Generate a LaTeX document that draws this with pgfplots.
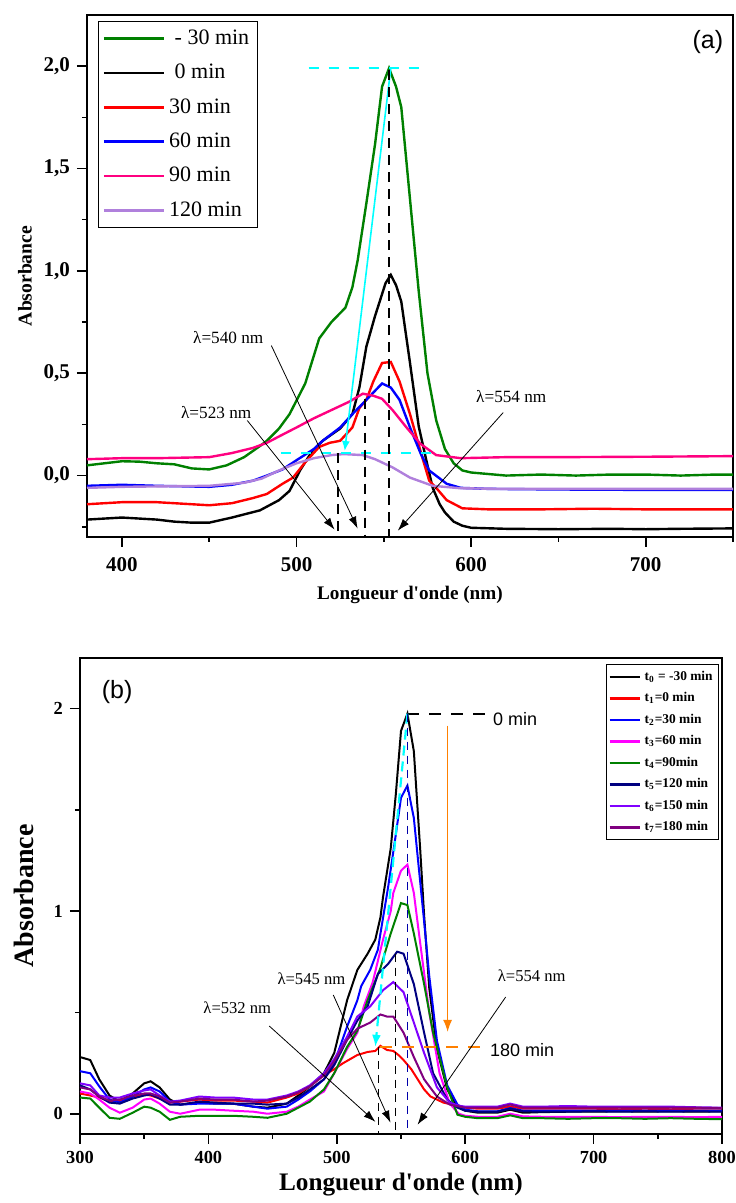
\documentclass[border=0pt]{standalone}
\usepackage{pgfplots}
\pgfplotsset{compat=1.18}
\usepackage{fontspec}
\setmainfont{Liberation Serif}[Ligatures=TeXOff]
\newfontfamily\arialf{Liberation Sans}
\usetikzlibrary{arrows.meta}
\definecolor{cgreen}{RGB}{0,128,0}
\definecolor{cpink}{RGB}{255,0,128}
\definecolor{clav}{RGB}{176,128,220}
\definecolor{ccyan}{RGB}{0,255,255}
\definecolor{corange}{RGB}{255,128,0}
\definecolor{cnavy}{RGB}{0,0,128}
\definecolor{cviolet}{RGB}{128,0,255}
\definecolor{cpurple}{RGB}{128,0,128}
\definecolor{cmag}{RGB}{255,0,255}
\definecolor{cdblue}{RGB}{0,0,170}

\pgfplotstableread{
x y
380 0.05
390 0.06
400 0.07
410 0.068
420 0.06
430 0.055
440 0.035
450 0.03
460 0.05
470 0.09
480 0.15
483 0.17
490 0.23
496 0.30
505 0.45
513 0.67
520 0.75
528 0.82
532 0.92
535 1.05
540 1.33
545 1.62
549 1.90
553 1.99
557 1.90
560 1.80
565 1.35
570 0.90
575 0.50
580 0.27
585 0.13
590 0.06
595 0.025
600 0.015
620 0.0
640 0.005
660 0.0
680 0.005
700 0.005
720 0.0
740 0.005
750 0.005
}\tAgreen
\pgfplotstableread{
x y
380 -0.215
390 -0.21
400 -0.205
410 -0.21
420 -0.215
430 -0.225
440 -0.23
450 -0.23
463 -0.205
479 -0.17
490 -0.12
496 -0.075
502 0.025
509 0.12
515 0.17
525 0.23
532 0.30
536 0.43
540 0.63
545 0.78
548 0.86
551 0.94
554 0.98
557 0.93
560 0.85
565 0.55
570 0.24
575 0.05
578 -0.06
582 -0.14
585 -0.18
590 -0.225
595 -0.245
600 -0.255
620 -0.26
650 -0.262
680 -0.26
700 -0.262
720 -0.26
750 -0.258
}\tAblack
\pgfplotstableread{
x y
380 -0.14
390 -0.135
400 -0.13
420 -0.13
440 -0.14
450 -0.145
463 -0.135
475 -0.11
483 -0.09
492 -0.04
498 -0.01
505 0.065
513 0.14
519 0.16
525 0.17
532 0.235
536 0.33
540 0.37
544 0.46
549 0.55
554 0.555
559 0.46
565 0.30
572 0.09
576 -0.025
580 -0.06
586 -0.12
595 -0.16
610 -0.165
640 -0.165
670 -0.162
700 -0.165
730 -0.165
750 -0.165
}\tAred
\pgfplotstableread{
x y
380 -0.05
400 -0.045
420 -0.05
450 -0.055
463 -0.045
475 -0.025
483 0.0
492 0.03
500 0.075
510 0.13
515 0.17
525 0.235
532 0.30
540 0.37
549 0.45
554 0.43
559 0.37
565 0.235
571 0.11
576 0.025
586 -0.04
594 -0.06
610 -0.065
650 -0.068
700 -0.07
750 -0.07
}\tAblue
\pgfplotstableread{
x y
380 0.08
400 0.085
420 0.085
450 0.09
463 0.11
475 0.135
483 0.16
492 0.20
500 0.235
510 0.28
520 0.32
530 0.36
538 0.40
544 0.39
549 0.375
555 0.32
563 0.235
571 0.155
580 0.10
594 0.085
620 0.09
650 0.09
700 0.092
750 0.095
}\tApink
\pgfplotstableread{
x y
380 -0.06
400 -0.055
450 -0.05
470 -0.035
480 -0.015
490 0.025
500 0.06
510 0.085
520 0.10
527 0.105
538 0.10
545 0.08
555 0.04
565 -0.01
578 -0.05
594 -0.062
620 -0.065
700 -0.065
750 -0.065
}\tApurple

\pgfplotstableread{
x y
300 0.28
308 0.265
315 0.17
323 0.09
331 0.06
341 0.10
350 0.15
355 0.16
362 0.13
370 0.07
378 0.045
393 0.055
405 0.05
419 0.05
435 0.035
446 0.03
461 0.05
470 0.09
479 0.135
490 0.20
498 0.30
508 0.56
516 0.71
524 0.79
530 0.86
534 0.97
536 1.07
542 1.31
546 1.58
550 1.89
555 1.975
560 1.79
565 1.30
568 0.98
572 0.62
578 0.32
586 0.12
594 0.035
600 0.015
610 0.005
625 0.005
635 0.02
645 0.005
660 0.008
680 0.01
700 0.01
720 0.012
740 0.01
760 0.012
780 0.01
800 0.012
}\tBzero
\pgfplotstableread{
x y
300 0.10
308 0.09
315 0.08
323 0.06
331 0.065
341 0.085
350 0.095
355 0.09
362 0.075
370 0.055
378 0.06
393 0.07
405 0.065
419 0.065
435 0.06
446 0.055
461 0.08
470 0.10
479 0.135
490 0.19
498 0.22
505 0.25
516 0.29
524 0.305
530 0.31
534 0.335
539 0.315
544 0.31
548 0.29
552 0.265
558 0.22
563 0.17
568 0.12
573 0.085
583 0.055
590 0.045
600 0.03
610 0.025
625 0.025
635 0.035
645 0.025
660 0.025
680 0.025
700 0.025
720 0.022
740 0.025
760 0.022
780 0.025
800 0.025
}\tBone
\pgfplotstableread{
x y
300 0.21
308 0.20
315 0.135
323 0.07
331 0.055
341 0.085
350 0.12
355 0.13
362 0.11
370 0.06
378 0.045
393 0.05
405 0.05
419 0.05
435 0.035
446 0.025
461 0.035
470 0.07
479 0.11
490 0.17
498 0.25
508 0.43
516 0.56
519 0.63
526 0.71
532 0.81
534 0.89
540 1.12
546 1.38
550 1.56
555 1.62
560 1.46
568 0.95
572 0.68
578 0.36
586 0.14
594 0.045
600 0.02
610 0.012
625 0.012
635 0.028
645 0.015
660 0.015
680 0.015
700 0.015
720 0.015
740 0.015
760 0.015
780 0.015
800 0.015
}\tBtwo
\pgfplotstableread{
x y
300 0.11
308 0.10
315 0.07
323 0.03
331 0.005
341 0.03
350 0.07
355 0.075
362 0.05
370 0.01
378 0.0
393 0.02
405 0.02
419 0.015
435 0.01
446 0.0
461 0.01
470 0.035
479 0.07
490 0.11
498 0.20
508 0.32
516 0.40
521 0.53
528 0.65
536 0.86
542 1.0
544 1.09
550 1.20
555 1.23
560 1.09
565 0.84
572 0.50
580 0.20
588 0.05
595 0.0
600 -0.01
610 -0.015
625 -0.015
635 0.0
645 -0.013
660 -0.015
680 -0.015
700 -0.015
720 -0.017
740 -0.015
760 -0.015
780 -0.017
800 -0.015
}\tBthree
\pgfplotstableread{
x y
300 0.08
308 0.075
315 0.03
323 -0.02
331 -0.025
341 0.005
350 0.035
355 0.03
362 0.01
370 -0.03
378 -0.015
393 -0.01
405 -0.01
419 -0.01
435 -0.015
446 -0.02
461 0.0
470 0.03
479 0.06
490 0.12
498 0.20
508 0.33
516 0.41
524 0.56
534 0.72
542 0.89
550 1.04
555 1.03
560 0.89
568 0.64
575 0.40
586 0.13
594 -0.005
600 -0.015
610 -0.022
625 -0.022
635 -0.008
645 -0.022
660 -0.022
680 -0.025
700 -0.022
720 -0.022
740 -0.025
760 -0.022
780 -0.025
800 -0.027
}\tBfour
\pgfplotstableread{
x y
300 0.14
308 0.12
315 0.085
323 0.055
331 0.05
341 0.075
350 0.09
355 0.095
362 0.075
370 0.045
378 0.045
393 0.06
405 0.055
419 0.05
435 0.05
446 0.045
461 0.05
470 0.08
479 0.12
490 0.17
498 0.24
508 0.365
516 0.46
524 0.53
532 0.69
540 0.74
547 0.80
552 0.79
560 0.64
568 0.40
575 0.20
586 0.07
594 0.03
600 0.015
610 0.01
625 0.01
635 0.025
645 0.012
660 0.01
680 0.01
700 0.012
720 0.01
740 0.012
760 0.01
780 0.012
800 0.01
}\tBfive
\pgfplotstableread{
x y
300 0.15
308 0.14
315 0.09
323 0.08
331 0.08
341 0.10
350 0.115
355 0.12
362 0.09
370 0.06
378 0.065
393 0.085
405 0.08
419 0.08
435 0.07
446 0.07
461 0.09
470 0.11
479 0.14
490 0.20
498 0.27
508 0.38
516 0.48
526 0.53
536 0.61
544 0.65
552 0.60
560 0.45
568 0.30
578 0.13
588 0.055
595 0.04
600 0.035
610 0.035
625 0.035
635 0.05
645 0.035
660 0.035
680 0.038
700 0.035
720 0.035
740 0.035
760 0.035
780 0.032
800 0.03
}\tBsix
\pgfplotstableread{
x y
300 0.13
308 0.12
315 0.085
323 0.065
331 0.07
341 0.09
350 0.10
355 0.10
362 0.085
370 0.055
378 0.06
393 0.075
405 0.07
419 0.07
435 0.06
446 0.065
461 0.085
470 0.105
479 0.135
490 0.19
498 0.26
508 0.365
516 0.42
526 0.45
534 0.49
539 0.48
544 0.48
552 0.40
560 0.28
568 0.17
578 0.085
588 0.045
600 0.03
610 0.03
625 0.03
635 0.045
645 0.03
660 0.03
680 0.03
700 0.03
720 0.03
740 0.03
760 0.03
780 0.03
800 0.028
}\tBseven

\pgfplotsset{
  common/.style={
    scale only axis,
    anchor=south west,
    axis line style={line width=1pt},
    tick align=outside,
    tick pos=left,
    major tick length=5pt,
    minor tick length=2.5pt,
    every tick/.style={black,line width=0.8pt},
    clip=true,
  }
}

\begin{document}
\begin{tikzpicture}
\path[use as bounding box] (0,0) rectangle (367.5pt,601.5pt);

% ---------------- panel (a)
\begin{axis}[common,
  at={(43.5pt,333pt)}, width=323pt, height=261pt,
  xmin=380, xmax=750, ymin=-0.30, ymax=2.25,
  xtick={400,500,600,700}, xticklabels={400,500,600,700},
  minor xtick={450,550,650,750},
  ytick={0,0.5,1,1.5,2}, yticklabels={{0,0},{0,5},{1,0},{1,5},{2,0}},
  minor ytick={-0.25,0.25,0.75,1.25,1.75},
  ticklabel style={font=\bfseries\fontsize{10.5}{12}\selectfont},
  xticklabel style={yshift=-1.5pt},
  xlabel={Longueur d'onde (nm)},
  ylabel={Absorbance},
  xlabel style={font=\bfseries\fontsize{9.6}{11}\selectfont, at={(axis description cs:0.5,0)}, anchor=center, yshift=-29pt},
  ylabel style={font=\bfseries\fontsize{9.8}{11}\selectfont, at={(axis description cs:-0.096,0.5)}, anchor=center},
  legend style={at={(axis description cs:0.017,0.9885)}, anchor=north west, draw=black, line width=0.6pt,
    font=\fontsize{11}{13}\selectfont, row sep=4.4pt, inner sep=2pt, cells={anchor=west}},
  legend image code/.code={\draw[#1,line width=1.3pt] (0pt,0pt) -- (30pt,0pt);},
  every axis plot/.append style={line width=1.2pt},
]
\addplot[cgreen] table {\tAgreen};
\addplot[black] table {\tAblack};
\addplot[red] table {\tAred};
\addplot[blue] table {\tAblue};
\addplot[cpink] table {\tApink};
\addplot[clav] table {\tApurple};
\legend{{\ - 30 min},{\ 0 min},{30 min},{60 min},{90 min},{120 min}}

\draw[ccyan, line width=0.9pt, dash pattern=on 5pt off 5pt] (axis cs:507,1.99) -- (axis cs:571,1.99);
\draw[ccyan, line width=0.9pt, dash pattern=on 5pt off 5pt] (axis cs:491,0.11) -- (axis cs:578,0.11);
\draw[ccyan, line width=0.8pt, -{Latex[length=5pt,width=4pt]}] (axis cs:554,1.99) -- (axis cs:527.6,0.12);
\draw[black, line width=1.1pt, dash pattern=on 5pt off 3.5pt] (axis cs:523.6,0.11) -- (axis cs:523.6,-0.30);
\draw[black, line width=1.1pt, dash pattern=on 5pt off 3.5pt] (axis cs:539,0.376) -- (axis cs:539,-0.30);
\draw[black, line width=1.1pt, dash pattern=on 5pt off 3.5pt] (axis cs:553,1.98) -- (axis cs:553,-0.30);
\draw[black, line width=0.4pt, -{Latex[length=6pt,width=4pt]}] (axis cs:485.6,0.635) -- (axis cs:535,-0.259);
\draw[black, line width=0.4pt, -{Latex[length=6pt,width=4pt]}] (axis cs:471.8,0.269) -- (axis cs:521.8,-0.264);
\draw[black, line width=0.4pt, -{Latex[length=6pt,width=4pt]}] (axis cs:618.4,0.308) -- (axis cs:558,-0.269);
\node[font=\fontsize{8.6}{10}\selectfont] at (axis cs:460.9,0.674) {λ=540 nm};
\node[font=\fontsize{8.6}{10}\selectfont] at (axis cs:454,0.308) {λ=523 nm};
\node[font=\fontsize{8.6}{10}\selectfont] at (axis cs:623,0.386) {λ=554 nm};
\node[font=\arialf\fontsize{12.5}{14}\selectfont] at (axis cs:735.6,2.116) {(a)};
\end{axis}

% ---------------- panel (b)
\begin{axis}[common,
  at={(40pt,34.5pt)}, width=321pt, height=238pt,
  xmin=300, xmax=800, ymin=-0.1, ymax=2.25,
  xtick={300,400,500,600,700,800}, xticklabels={300,400,500,600,700,800},
  minor xtick={350,450,550,650,750},
  ytick={0,1,2}, yticklabels={0,1,2},
  minor ytick={0.5,1.5},
  ticklabel style={font=\bfseries\fontsize{9.2}{11}\selectfont},
  xlabel={Longueur d'onde (nm)},
  ylabel={Absorbance},
  xlabel style={font=\bfseries\fontsize{12.6}{14}\selectfont, at={(axis description cs:0.5,0)}, anchor=center, yshift=-25.5pt},
  ylabel style={font=\bfseries\fontsize{14}{16}\selectfont, at={(axis description cs:-0.0872,0.5)}, anchor=center},
  legend style={at={(axis description cs:0.819,0.987)}, anchor=north west, draw=black, line width=0.6pt,
    font=\bfseries\fontsize{6.7}{8}\selectfont, row sep=0.6pt, inner sep=1pt, cells={anchor=west}},
  legend image code/.code={\draw[#1,line width=1.1pt] (0pt,0pt) -- (15pt,0pt);},
  every axis plot/.append style={line width=1pt},
]
\addplot[black] table {\tBzero};
\addplot[red] table {\tBone};
\addplot[blue] table {\tBtwo};
\addplot[cmag] table {\tBthree};
\addplot[cgreen] table {\tBfour};
\addplot[cnavy] table {\tBfive};
\addplot[cviolet] table {\tBsix};
\addplot[cpurple] table {\tBseven};
\legend{{t\textsubscript{0} = -30 min},{t\textsubscript{1}=0 min},{t\textsubscript{2}=30 min},{t\textsubscript{3}=60 min},{t\textsubscript{4}=90min},{t\textsubscript{5}=120 min},{t\textsubscript{6}=150 min},{t\textsubscript{7}=180 min}}

\draw[black, line width=1.1pt, dash pattern=on 6pt off 5pt] (axis cs:555,1.975) -- (axis cs:616,1.975);
\draw[corange, line width=1.1pt, dash pattern=on 6pt off 5pt] (axis cs:534,0.33) -- (axis cs:612,0.33);
\draw[corange, line width=0.6pt, -{Latex[length=6pt,width=4.5pt]}] (axis cs:586.3,1.916) -- (axis cs:586.3,0.404);
\draw[ccyan, line width=1.1pt, dash pattern=on 5pt off 3pt, -{Latex[length=6pt,width=4.5pt]}] (axis cs:555,1.975) -- (axis cs:530,0.33);
\draw[black, line width=0.8pt, dash pattern=on 4pt off 3pt] (axis cs:532.5,0.33) -- (axis cs:532.5,-0.1);
\draw[black, line width=0.8pt, dash pattern=on 4pt off 3pt] (axis cs:545.7,0.79) -- (axis cs:545.7,-0.1);
\draw[cdblue, line width=0.8pt, dash pattern=on 4pt off 3pt] (axis cs:555,1.975) -- (axis cs:555,-0.1);
\draw[black, line width=0.4pt, -{Latex[length=6pt,width=4pt]}] (axis cs:447.4,0.433) -- (axis cs:530.1,-0.04);
\draw[black, line width=0.4pt, -{Latex[length=6pt,width=4pt]}] (axis cs:497.3,0.586) -- (axis cs:541.8,-0.044);
\draw[black, line width=0.4pt, -{Latex[length=6pt,width=4pt]}] (axis cs:631.5,0.576) -- (axis cs:562.9,-0.054);
\node[font=\fontsize{8.3}{10}\selectfont] at (axis cs:422.5,0.522) {λ=532 nm};
\node[font=\fontsize{8.3}{10}\selectfont] at (axis cs:480.2,0.665) {λ=545 nm};
\node[font=\fontsize{8.3}{10}\selectfont] at (axis cs:651.8,0.68) {λ=554 nm};
\node[font=\arialf\fontsize{9}{11}\selectfont, anchor=west, inner sep=0pt] at (axis cs:621.4,1.95) {0 min};
\node[font=\arialf\fontsize{9}{11}\selectfont, anchor=west, inner sep=0pt] at (axis cs:619,0.315) {180 min};
\node[font=\arialf\fontsize{12.5}{14}\selectfont] at (axis cs:328.9,2.08) {(b)};
\end{axis}
\end{tikzpicture}
\end{document}
